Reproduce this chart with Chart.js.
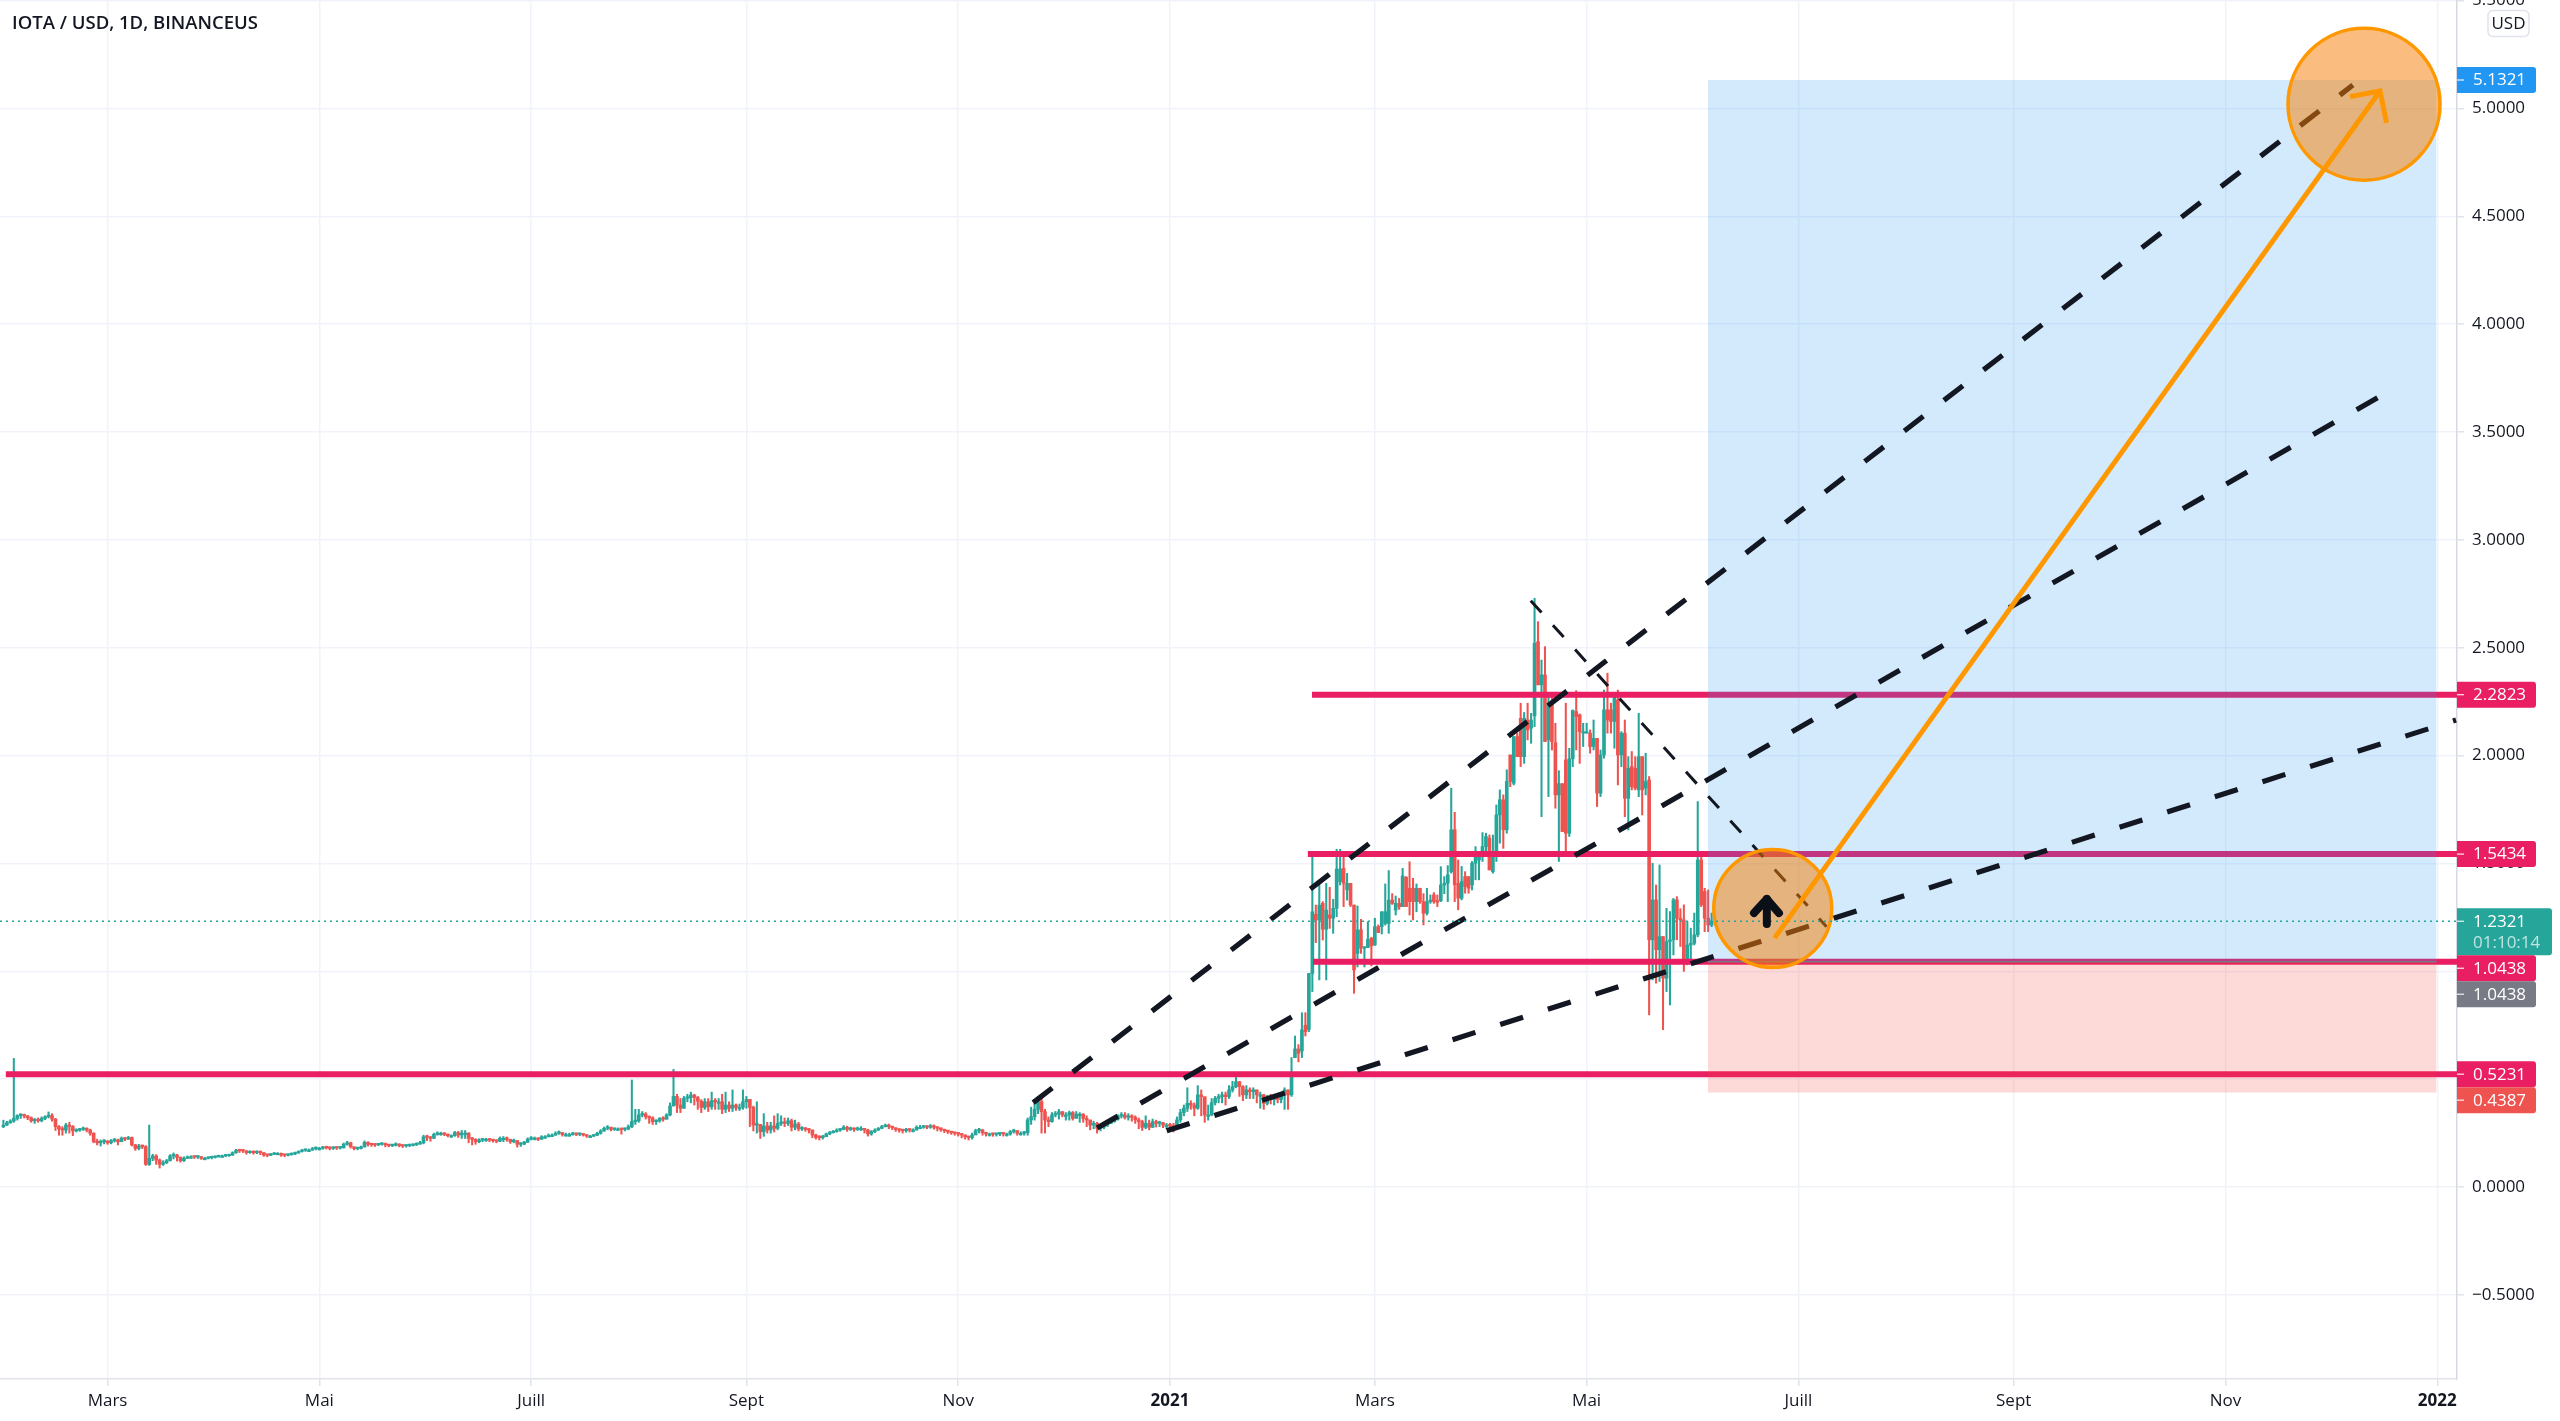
<!DOCTYPE html>
<html><head><meta charset="utf-8">
<style>html,body{margin:0;padding:0;background:#fff}canvas{display:block}</style>
<script src="https://cdn.jsdelivr.net/npm/chart.js@4"></script>
</head><body><canvas id="c" width="2560" height="1421"></canvas>
<script>
const title = 'IOTA / USD, 1D, BINANCEUS';
// Daily candles: day 0 = 2021-01-01, first candle = day -336
const firstDay = -336;
const flatCloses = [
.287,.298,.306,.318,.331,.334,.329,.321,.307,.311,
.307,.318,.326,.331,.315,.28,.269,.264,.287,.28,
.26,.264,.267,.272,.264,.249,.21,.205,.21,.213,
.205,.215,.218,.21,.226,.222,.229,.195,.179,.19,
.187,.105,.133,.144,.125,.105,.113,.122,.144,.148,
.137,.122,.133,.14,.14,.139,.14,.133,.133,.136,
.137,.14,.144,.144,.145,.148,.159,.17,.168,.167,
.159,.164,.159,.164,.159,.148,.147,.151,.156,.156,
.148,.147,.15,.153,.158,.165,.17,.171,.171,.178,
.179,.179,.184,.182,.179,.182,.181,.182,.198,.205,
.187,.178,.179,.185,.207,.198,.196,.195,.198,.2,
.195,.192,.193,.2,.192,.19,.192,.193,.196,.199,
.205,.233,.23,.226,.244,.249,.249,.244,.238,.238,
.252,.241,.25,.25,.226,.221,.21,.218,.221,.221,
.218,.215,.212,.226,.226,.221,.21,.215,.198,.199,
.208,.222,.227,.227,.221,.233,.233,.24,.24,.249,
.252,.243,.243,.243,.249,.244,.246,.241,.236,.236,
.24,.249,.26,.272,.277,.267,.269,.269,.267,.269,
.28,.303,.307,.334,.338,.326,.32,.303,.307,.318,
.314,.334,.375,.42,.38,.365,.411,.414,.426,.415,
.398,.369,.395,.372,.4,.395,.395,.36,.38,.365,
.38,.369,.369,.395,.406,.369,.287,.29,.256,.283,
.264,.283,.272,.295,.298,.295,.307,.277,.292,.269,
.272,.267,.264,.241,.23,.229,.233,.246,.252,.257,
.264,.267,.277,.267,.272,.267,.272,.272,.264,.246,
.257,.264,.272,.28,.286,.28,.275,.267,.264,.261,
.267,.264,.264,.277,.277,.28,.277,.283,.277,.272,
.267,.261,.257,.252,.249,.246,.241,.233,.229,.241,
.261,.264,.252,.246,.246,.244,.246,.247,.246,.246,
.257,.261,.249,.249,.252,.311,.326,.36,.396,.349,
.311,.303,.334,.338,.349,.334,.334,.345,.318,.338,
.338,.318,.311,.287,.295,.272,.277,.287,.295,.303,
.314,.329,.334,.323,.329,.323,.311,.303,.277,.295,
.277,.303,.295,.298,.287,.287,.283,.277,.311,.345,
.365,.388,.38,.365,.427,.419,.334,.334,.391,.411,
.419,.427,.419,.45,.465,.488,.465,.427,.45,.442,
.45,.427,.427,.388,.411,.406,.411,.406,.427,.45,
.427,.527];
const flatHighs = [
.31,.305,.312,.596,.335,.34,.338,.332,.325,.318,
.32,.325,.33,.348,.34,.318,.285,.28,.295,.3,
.285,.27,.272,.278,.275,.268,.252,.222,.218,.22,
.215,.22,.225,.222,.232,.23,.235,.232,.198,.198,
.195,.192,.287,.152,.15,.13,.122,.128,.15,.158,
.152,.14,.14,.144,.145,.143,.143,.142,.138,.14,
.142,.144,.148,.148,.15,.152,.163,.175,.175,.172,
.17,.168,.168,.168,.167,.16,.152,.156,.16,.16,
.158,.152,.154,.158,.162,.168,.174,.176,.176,.184,
.186,.184,.188,.187,.186,.187,.185,.186,.204,.212,
.208,.185,.183,.19,.214,.21,.202,.2,.203,.205,
.204,.198,.198,.205,.2,.195,.196,.198,.2,.205,
.212,.24,.24,.234,.25,.256,.254,.252,.246,.242,
.258,.258,.262,.262,.252,.23,.224,.224,.226,.226,
.224,.22,.218,.232,.234,.232,.222,.222,.216,.206,
.212,.228,.234,.232,.228,.238,.238,.246,.246,.256,
.26,.254,.25,.25,.254,.25,.25,.248,.242,.24,
.244,.254,.266,.278,.285,.278,.274,.274,.272,.274,
.288,.496,.36,.36,.35,.345,.33,.326,.312,.322,
.326,.34,.39,.545,.43,.41,.42,.43,.44,.43,
.42,.405,.41,.41,.44,.41,.41,.43,.44,.395,
.45,.385,.385,.45,.42,.405,.375,.395,.29,.34,
.3,.3,.33,.34,.33,.32,.32,.315,.31,.3,
.28,.276,.27,.265,.245,.238,.24,.25,.258,.262,
.27,.272,.285,.282,.278,.274,.278,.28,.272,.268,
.262,.27,.276,.286,.292,.292,.282,.274,.268,.268,
.272,.27,.27,.284,.286,.286,.284,.29,.288,.28,
.274,.268,.262,.258,.254,.25,.248,.242,.236,.25,
.268,.272,.268,.254,.25,.25,.25,.252,.25,.25,
.262,.268,.262,.256,.258,.32,.37,.39,.42,.43,
.36,.325,.345,.35,.36,.35,.345,.352,.35,.35,
.345,.34,.33,.31,.305,.3,.285,.295,.305,.31,
.325,.335,.345,.345,.34,.335,.33,.32,.31,.33,
.31,.315,.31,.305,.3,.295,.295,.295,.325,.36,
.38,.46,.4,.39,.47,.45,.37,.38,.41,.42,
.43,.44,.44,.47,.49,.508,.49,.47,.47,.46,
.46,.45,.44,.43,.425,.43,.43,.42,.43,.46,
.45,.6];
const flatLows = [
.275,.285,.295,.3,.31,.318,.32,.312,.3,.295,
.3,.302,.312,.32,.305,.262,.24,.24,.25,.25,
.238,.255,.258,.262,.255,.24,.205,.195,.19,.2,
.198,.2,.208,.195,.215,.215,.22,.19,.17,.172,
.178,.1,.1,.122,.105,.088,.1,.108,.12,.13,
.12,.115,.118,.132,.134,.132,.132,.128,.128,.13,
.13,.134,.138,.138,.14,.142,.146,.156,.16,.16,
.152,.156,.152,.154,.15,.142,.14,.145,.15,.15,
.142,.14,.144,.147,.15,.156,.162,.165,.165,.17,
.172,.172,.175,.176,.172,.174,.174,.176,.18,.194,
.18,.172,.172,.176,.186,.19,.188,.188,.192,.194,
.186,.186,.187,.19,.186,.183,.185,.187,.19,.192,
.198,.2,.215,.212,.225,.24,.24,.238,.232,.23,
.235,.23,.225,.225,.205,.195,.198,.205,.21,.212,
.21,.208,.205,.21,.21,.212,.202,.205,.185,.188,
.196,.206,.218,.218,.215,.222,.226,.232,.234,.24,
.244,.236,.236,.235,.24,.238,.238,.236,.23,.23,
.233,.238,.245,.258,.265,.26,.262,.262,.245,.26,
.265,.275,.29,.3,.325,.315,.295,.29,.29,.3,
.305,.315,.33,.38,.345,.345,.365,.395,.39,.38,
.36,.345,.36,.35,.36,.36,.36,.34,.345,.35,
.35,.355,.355,.36,.365,.28,.26,.25,.225,.235,
.25,.25,.255,.265,.285,.28,.285,.26,.265,.26,
.262,.258,.25,.228,.222,.218,.222,.235,.242,.25,
.254,.258,.265,.258,.262,.258,.262,.262,.25,.236,
.24,.252,.262,.27,.278,.27,.266,.258,.254,.25,
.254,.255,.255,.264,.27,.272,.27,.272,.268,.26,
.258,.252,.248,.244,.24,.236,.228,.222,.218,.222,
.25,.25,.24,.236,.236,.235,.236,.238,.236,.236,
.24,.25,.24,.24,.24,.24,.29,.31,.34,.25,
.25,.28,.3,.325,.315,.325,.31,.31,.31,.32,
.3,.3,.28,.265,.27,.25,.26,.27,.28,.295,
.3,.31,.32,.315,.31,.305,.295,.27,.262,.27,
.265,.275,.278,.28,.275,.27,.265,.255,.27,.3,
.33,.35,.36,.33,.36,.33,.3,.31,.33,.38,
.39,.39,.38,.41,.44,.46,.42,.4,.41,.41,
.41,.39,.365,.36,.38,.385,.38,.39,.39,.36,
.36,.42];
// Recent candles, Feb to Jun 2021
const recentOpens = [
.60,.64,.63,.75,.73,.99,1.264,1.238,1.315,1.195,1.261,1.246,1.292,1.416,1.477,1.377,1.408,1.307,1.083,1.192,
1.107,1.11,1.153,1.122,1.207,1.207,1.222,1.222,1.33,1.284,1.315,1.30,1.436,1.385,1.385,1.323,1.385,1.323,1.269,1.33,
1.354,1.328,1.327,1.40,1.408,1.462,1.656,1.408,1.339,1.439,1.439,1.401,1.501,1.516,1.54,1.578,1.617,1.462,1.547,1.725,
1.795,1.656,2.003,1.872,2.088,2.173,1.995,2.165,2.127,2.184,2.528,2.328,2.374,2.073,2.243,2.06,1.818,1.87,1.98,1.64,
1.985,2.204,2.189,2.104,2.111,2.104,2.042,2.08,1.826,2.003,2.212,2.212,2.158,2.258,2.003,2.104,1.802,1.949,1.941,1.841,
1.995,1.849,1.887,1.146,1.331,1.10,1.161,.968,1.138,1.146,1.331,1.246,1.238,1.045,1.122,1.13,1.169,1.516,1.37,1.246,1.215];
const recentCloses = [
.64,.62,.728,.72,.99,1.276,1.238,1.307,1.195,1.284,1.246,1.292,1.474,1.474,1.408,1.408,1.307,1.006,1.192,1.107,
1.114,1.148,1.118,1.207,1.179,1.276,1.276,1.33,1.315,1.315,1.30,1.442,1.30,1.323,1.323,1.385,1.323,1.269,1.323,1.33,
1.323,1.32,1.40,1.408,1.447,1.656,1.401,1.339,1.416,1.393,1.385,1.501,1.54,1.54,1.578,1.625,1.47,1.555,1.725,1.795,
1.656,1.88,1.88,2.088,1.995,1.995,2.173,2.119,2.165,2.521,2.328,2.374,2.065,2.243,2.065,1.818,1.87,1.648,1.64,1.985,
2.209,2.181,2.111,2.111,2.111,2.042,2.08,1.826,2.003,2.212,2.165,2.158,2.274,2.003,2.104,1.802,1.941,1.856,1.849,1.995,
1.841,1.88,1.146,1.331,1.10,1.161,.968,1.138,1.146,1.331,1.246,1.238,1.045,1.122,1.13,1.169,1.516,1.308,1.246,1.215,1.2321];
const recentHighs = [
.70,.66,.808,.808,.99,1.555,1.307,1.416,1.323,1.408,1.389,1.334,1.566,1.566,1.53,1.454,1.408,1.307,1.303,1.241,
1.114,1.23,1.158,1.246,1.215,1.276,1.405,1.467,1.36,1.349,1.338,1.477,1.439,1.508,1.431,1.405,1.385,1.36,1.385,1.354,
1.365,1.354,1.485,1.439,1.49,1.849,1.737,1.516,1.486,1.462,1.439,1.509,1.578,1.555,1.643,1.64,1.632,1.632,1.771,1.841,
1.818,1.934,2.003,2.088,2.104,2.243,2.2,2.243,2.196,2.729,2.621,2.443,2.505,2.289,2.274,2.15,1.93,1.87,2.243,2.034,
2.212,2.301,2.193,2.15,2.15,2.119,2.165,2.08,2.026,2.304,2.382,2.243,2.281,2.304,2.111,2.165,1.995,2.019,1.995,2.196,
1.995,2.011,1.903,1.501,1.40,1.493,1.161,1.292,1.277,1.338,1.346,1.29,1.308,1.23,1.20,1.27,1.787,1.547,1.385,1.377,1.27];
const recentLows = [
.60,.58,.60,.70,.72,.906,1.133,.96,1.145,.96,1.199,1.176,1.253,1.40,1.30,1.33,1.30,.898,1.02,1.083,
1.02,1.11,1.025,1.12,1.179,1.173,1.214,1.176,1.31,1.261,1.287,1.30,1.30,1.261,1.238,1.276,1.315,1.215,1.261,1.315,
1.315,1.30,1.323,1.36,1.323,1.455,1.323,1.285,1.331,1.362,1.362,1.377,1.424,1.424,1.509,1.547,1.47,1.455,1.509,1.594,
1.57,1.64,1.856,1.864,1.995,1.949,1.964,2.073,2.057,2.134,2.328,1.717,2.065,1.81,2.026,1.756,1.509,1.648,1.555,1.625,
1.949,2.026,1.964,2.042,2.104,2.011,2.026,1.764,1.81,1.988,2.104,2.104,2.034,1.864,1.949,1.717,1.655,1.841,1.841,1.81,
1.725,1.818,.798,.96,.945,.953,.729,.906,.844,1.076,1.146,1.115,1.0,1.03,1.045,1.122,1.16,1.30,1.184,1.184,1.207];

const closes = flatCloses.concat(recentCloses);
const opens = [.28].concat(flatCloses.slice(0, -1), recentOpens);
const highs = flatHighs.concat(recentHighs);
const lows = flatLows.concat(recentLows);

const tickDays = [-306,-245,-184,-122,-61,0,59,120,181,243,304,365];
const tickLabels = ['Mars','Mai','Juill','Sept','Nov','2021','Mars','Mai','Juill','Sept','Nov','2022'];

const resistanceLevels = [2.2823,1.5434,1.0438,.5231];
const resistanceStarts = [40.9,39.7,41.2,-335.3];
const currentPrice = 1.2321;
const countdown = '01:10:14';
const targetPrice = 5.1321, entryPrice = 1.0438, stopPrice = .4387;
const positionStart = 154.9, positionEnd = 364.8;

const channelTop = [[-39.4,.391],[340.7,5.109]];
const channelMid = [[-21,.2735],[350.2,3.681]];
const channelLow = [[-.95,.261],[370.4,2.165]];
const downTrend = [[103.9,2.718],[189.1,1.207]];
const arrowShaft = [[174.1,1.154],[348.5,5.081]];
const arrowHead = [[339.9,5.055],[348.5,5.081],[350.4,4.934]];
const upGlyphHead = [[168.2,1.27],[171.9,1.335],[175.4,1.27]];
const upGlyphShaft = [[171.9,1.335],[171.9,1.219]];
const circleTarget = [[343.9,5.02]];
const circleEntry = [[173.6,1.291]];

const GREEN='#26a69a', RED='#ef5350', PINK='#e91e63', INK='#131722', ORANGE='#ff9800';
const FONT='"Open Sans", sans-serif';
const xMin=-336.98, xMax=370.68, yMin=-.8901, yMax=5.503;

const days = closes.map((_, i) => firstDay + i);
const candleColors = closes.map((c, i) => c >= opens[i] ? GREEN : RED);
const pts = a => a.map(p => ({x:p[0], y:p[1]}));
const line = (data, color, width, order, extra) => Object.assign({
  type:'line', data:pts(data), borderColor:color, borderWidth:width, pointRadius:0,
  tension:0, fill:false, order, borderCapStyle:'butt'
}, extra||{});

const datasets = [
  {type:'bar', data:days.map((d,i)=>({x:d,y:[lows[i],highs[i]]})), backgroundColor:candleColors,
   barThickness:1.4, grouped:false, borderWidth:0, order:100},
  {type:'bar', data:days.map((d,i)=>({x:d,y:[opens[i],closes[i]]})), backgroundColor:candleColors,
   barThickness:3, grouped:false, borderWidth:0, minBarLength:1.5, order:99},
];
resistanceLevels.forEach((v,i)=>datasets.push(line([[resistanceStarts[i],v],[xMax,v]],PINK,6,97)));
datasets.push(line([[positionStart,targetPrice],[positionEnd,targetPrice]],'rgba(0,0,0,0)',0,96,
  {fill:{value:entryPrice},backgroundColor:'rgba(33,150,243,.2)'}));
datasets.push(line([[positionStart,entryPrice],[positionEnd,entryPrice]],'rgba(0,0,0,0)',0,95,
  {fill:{value:stopPrice},backgroundColor:'rgba(244,67,54,.2)'}));
datasets.push(line([[positionStart,entryPrice],[positionEnd,entryPrice]],'#787b86',1.5,94));
[channelTop,channelMid,channelLow].forEach(a=>datasets.push(line(a,INK,5.2,93,{borderDash:[24,26]})));
datasets.push(line(downTrend,INK,3,92,{borderDash:[16,17]}));
datasets.push(line(circleTarget,ORANGE,0,90,{showLine:false,pointRadius:76,pointBorderWidth:3.5,pointBorderColor:ORANGE,pointBackgroundColor:'rgba(245,124,0,.5)'}));
datasets.push(line(circleEntry,ORANGE,0,90,{showLine:false,pointRadius:59,pointBorderWidth:3.5,pointBorderColor:ORANGE,pointBackgroundColor:'rgba(245,124,0,.5)'}));
datasets.push(line([[xMin,currentPrice],[xMax,currentPrice]],GREEN,1.5,88,{borderDash:[2,4]}));
datasets.push(line(arrowShaft,ORANGE,5,87));
datasets.push(line(arrowHead,ORANGE,5,87));
datasets.push(line(upGlyphHead,'#0b0f17',8,86,{borderCapStyle:'round',borderJoinStyle:'round'}));
datasets.push(line(upGlyphShaft,'#0b0f17',8,86,{borderCapStyle:'round'}));

const axisLabels = [
  {v:targetPrice,t:targetPrice.toFixed(4),c:'#2196f3'},
  {v:2.2823,t:'2.2823',c:PINK},
  {v:1.5434,t:'1.5434',c:PINK},
  {v:currentPrice,t:currentPrice.toFixed(4),c:GREEN,sub:countdown},
  {v:1.0438,t:'1.0438',c:PINK},
  {v:entryPrice,t:entryPrice.toFixed(4),c:'#787b86'},
  {v:.5231,t:'0.5231',c:PINK},
  {v:stopPrice,t:stopPrice.toFixed(4),c:RED},
];

function rr(ctx,x,y,w,h,r){ctx.beginPath();ctx.moveTo(x,y);ctx.lineTo(x+w-r,y);ctx.quadraticCurveTo(x+w,y,x+w,y+r);
  ctx.lineTo(x+w,y+h-r);ctx.quadraticCurveTo(x+w,y+h,x+w-r,y+h);ctx.lineTo(x,y+h);ctx.closePath();}

const overlay = {id:'overlay', afterDraw(chart){
  const ctx=chart.ctx, ys=chart.scales.y, ax=chart.chartArea.right;
  ctx.save();
  ctx.fillStyle=INK; ctx.textAlign='left'; ctx.textBaseline='middle';
  ctx.font='600 18.5px '+FONT; ctx.fillText(title,12,24);
  let floor=-1e9;
  axisLabels.forEach(l=>{
    const py=ys.getPixelForValue(l.v);
    const h=l.sub?47:26, top=Math.max(py-13,floor);
    const w=l.sub?95:79;
    ctx.fillStyle=l.c; rr(ctx,ax,top,w,h,3); ctx.fill();
    ctx.strokeStyle='rgba(255,255,255,.9)'; ctx.lineWidth=1.2;
    ctx.beginPath(); ctx.moveTo(ax,top+13); ctx.lineTo(ax+7,top+13); ctx.stroke();
    ctx.fillStyle='#fff'; ctx.font='17px '+FONT; ctx.fillText(l.t,ax+16,top+13.5);
    if(l.sub){ctx.fillStyle='rgba(255,255,255,.7)'; ctx.fillText(l.sub,ax+16,top+35);}
    floor=top+h;
  });
  ctx.strokeStyle='#e0e3eb'; ctx.lineWidth=1.5; ctx.fillStyle='#fff';
  ctx.beginPath(); ctx.roundRect(2488,10.5,41,26,5); ctx.fill(); ctx.stroke();
  ctx.fillStyle=INK; ctx.textAlign='center'; ctx.font='17px '+FONT; ctx.fillText('USD',2508.5,24);
  ctx.restore();
}};

new Chart(document.getElementById('c'),{
  data:{datasets},
  plugins:[overlay],
  options:{
    responsive:false, animation:false, devicePixelRatio:1, events:[],
    layout:{padding:0,autoPadding:false},
    plugins:{legend:{display:false},tooltip:{enabled:false}},
    scales:{
      x:{type:'linear',min:xMin,max:xMax,offset:false,
        grid:{offset:false,color:'#f0f3fa',lineWidth:1.5,tickColor:'#e0e3eb',tickLength:7},
        border:{display:true,color:'#e0e3eb',width:1.5},
        afterBuildTicks:s=>{s.ticks=tickDays.map(v=>({value:v}));},
        afterFit:s=>{s.height=42;s.paddingLeft=0;s.paddingRight=0;},
        ticks:{autoSkip:false,maxRotation:0,minRotation:0,padding:5,color:INK,
          callback:(v,i)=>tickLabels[i],
          font:c=>({family:FONT,size:17,weight:/^\d/.test(tickLabels[c.index]||'')?'700':'400'})}
      },
      y:{type:'linear',position:'right',min:yMin,max:yMax,
        grid:{color:'#f0f3fa',lineWidth:1.5,tickColor:'#e0e3eb',tickLength:7},
        border:{display:true,color:'#d6d9e2',width:1.5},
        afterFit:s=>{s.width=103;s.paddingTop=0;s.paddingBottom=0;},
        ticks:{stepSize:.5,includeBounds:false,autoSkip:false,padding:8,color:INK,
          font:{family:FONT,size:17},
          callback:v=>(v<0?'\u2212':'')+Math.abs(v).toFixed(4)}
      }
    }
  }
});
</script></body></html>
